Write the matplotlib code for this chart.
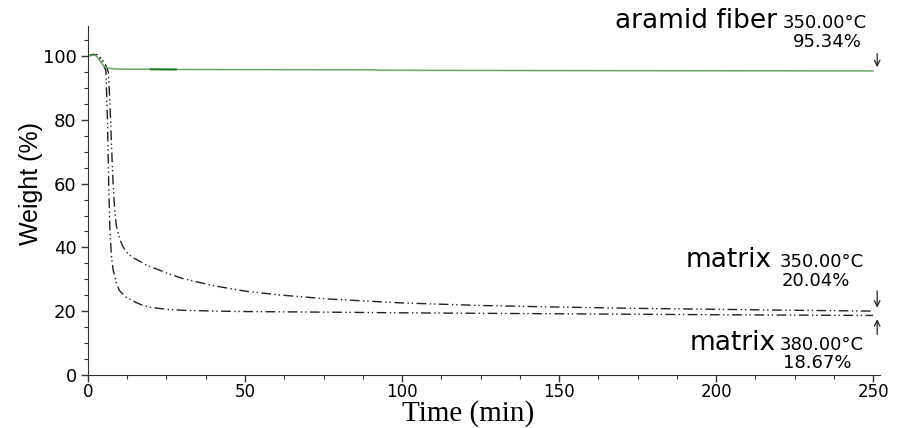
import numpy as np
import matplotlib
matplotlib.use("Agg")
import matplotlib.pyplot as plt

# TGA curves (time in min, weight in %)
t_fiber = [0, 1.5, 2.5, 3.5, 4.5, 5.5, 7, 10, 20, 28, 60, 90, 93, 150, 200, 250]
w_fiber = [100, 100.3, 100.2, 99.0, 97.5, 96.6, 96.1, 95.9, 95.85, 95.8, 95.75, 95.7, 95.55, 95.45, 95.4, 95.34]

t_m350 = [0, 1.5, 3, 4.5, 5.5, 6.5, 7, 7.5, 8, 8.5, 9, 10, 11, 12.3, 14, 18.6, 25, 30, 40, 50,
          61, 77, 100, 125, 150, 175, 200, 225, 250]
w_m350 = [100, 100.5, 100.4, 99.0, 97.5, 95, 85, 72, 60, 52, 47, 43, 40.5, 38.5, 37, 34.5, 32, 30.3,
          28, 26.3, 25.1, 23.8, 22.6, 21.8, 21.3, 20.9, 20.6, 20.3, 20.04]

t_m380 = [0, 1.5, 3, 4, 5, 5.7, 6.2, 6.6, 7, 7.5, 8, 9, 10, 12, 14.4, 17, 20, 25, 30, 40, 50,
          77, 100, 150, 200, 250]
w_m380 = [100, 100.5, 100.4, 99.0, 97.0, 95.5, 80, 60, 45, 37, 33, 29, 26.5, 24.5, 23.2, 22, 21.2,
          20.6, 20.3, 20.05, 19.9, 19.7, 19.5, 19.2, 18.9, 18.67]

labels = [("aramid fiber", "350.00°C", "95.34%"),
          ("matrix", "350.00°C", "20.04%"),
          ("matrix", "380.00°C", "18.67%")]

fig = plt.figure(figsize=(9.06, 4.28), dpi=100)
ax = fig.add_axes([0.0971, 0.1238, 0.8742, 0.8152])

dd = (0, (7, 2.5, 1, 2, 1, 2.5))
ax.plot(t_m350, w_m350, color="#222222", lw=1.0, ls=dd)
ax.plot(t_m380, w_m380, color="#222222", lw=1.0, ls=dd)
tf = np.array(t_fiber)
wf = np.array(w_fiber)
ax.plot(tf, wf, color="#6aa66a", lw=1.1)
m = (tf >= 20) & (tf <= 28)
ax.plot(tf[m], wf[m], color="#1f7a1f", lw=1.4)

ax.set_xlim(0, 252.2)
ax.set_ylim(0, 109.4)
ax.set_xticks([0, 50, 100, 150, 200, 250])
ax.set_yticks([0, 20, 40, 60, 80, 100])
ax.set_xticks(np.arange(0, 251, 12.5), minor=True)
ax.set_yticks(np.arange(0, 106, 5), minor=True)
for s in ("top", "right"):
    ax.spines[s].set_visible(False)
for s in ("left", "bottom"):
    ax.spines[s].set_color("#333333")
ax.tick_params(which="major", length=5, width=1, colors="#333333", labelsize=13,
               labelcolor="black", pad=3)
ax.tick_params(axis="x", which="major", labelsize=12, pad=1)
ax.tick_params(which="minor", length=3, width=0.8, colors="#333333")
for lab in ax.get_xticklabels() + ax.get_yticklabels():
    lab.set_family("DejaVu Sans")

ax.set_xlabel("Time (min)", family="Liberation Serif", fontsize=21, va="bottom")
ax.xaxis.set_label_coords(0.48, -0.149)
ax.set_ylabel("Weight (%)", family="Liberation Sans", fontsize=18)
ax.yaxis.set_label_coords(-0.057, 0.55)

# end-of-run annotations
ends = [w_fiber[-1], w_m350[-1], w_m380[-1]]
tx = 251.3
ax.annotate("", xy=(tx, ends[0] + 0.3), xytext=(tx, ends[0] + 6.3),
            arrowprops=dict(arrowstyle="->", color="#222222", lw=0.9))
ax.annotate("", xy=(tx, ends[1] + 0.2), xytext=(tx, ends[1] + 7.2),
            arrowprops=dict(arrowstyle="->", color="#222222", lw=0.9))
ax.annotate("", xy=(tx, ends[2] - 0.3), xytext=(tx, ends[2] - 6.8),
            arrowprops=dict(arrowstyle="->", color="#222222", lw=0.9))

# (name right x, temp left x, pct left x, name/temp baseline, pct baseline)
pos = [(219.4, 221.3, 224.5, 108.8, 102.8),
       (217.8, 220.4, 221.0, 33.9, 28.0),
       (219.0, 220.4, 221.2, 7.9, 2.1)]
for (name, temp, pct), (xn, xt, xp, y1, y2) in zip(labels, pos):
    ax.text(xn, y1, name, ha="right", va="baseline", fontsize=19, family="DejaVu Sans")
    ax.text(xt, y1, temp, ha="left", va="baseline", fontsize=13, family="DejaVu Sans")
    ax.text(xp, y2, pct, ha="left", va="baseline", fontsize=13, family="DejaVu Sans")

fig.savefig("out.png", dpi=100)
